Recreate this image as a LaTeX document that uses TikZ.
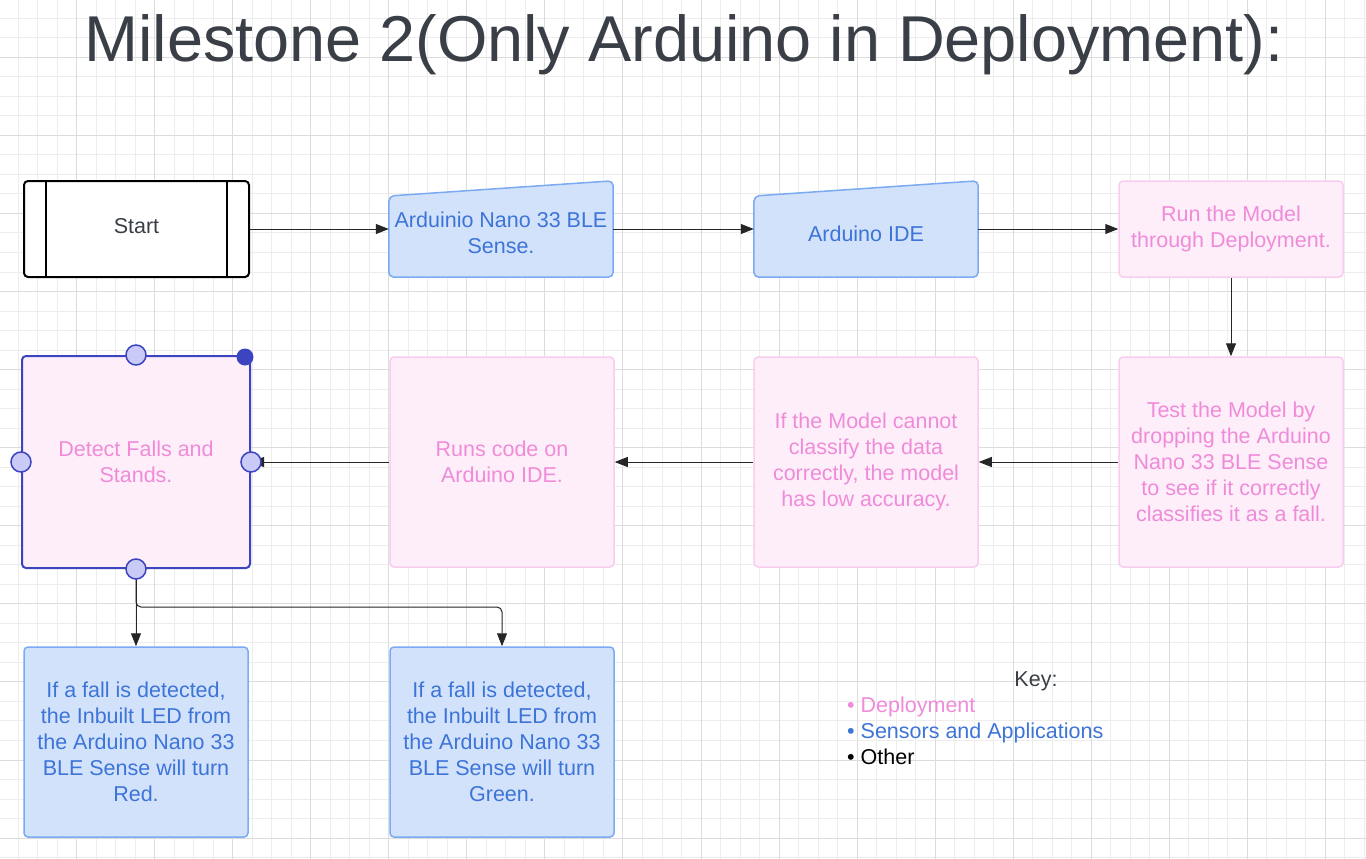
\documentclass[tikz,border=0pt]{standalone}
\usepackage{fontspec}
\setmainfont{Liberation Sans}
\usetikzlibrary{arrows.meta}
\definecolor{bfill}{HTML}{D2E2FB}
\definecolor{bline}{HTML}{7BAAF2}
\definecolor{btext}{HTML}{3D74D8}
\definecolor{pfill}{HTML}{FDEEF9}
\definecolor{pline}{HTML}{F8CDEF}
\definecolor{ptext}{HTML}{F08BD9}
\definecolor{gtext}{HTML}{3A3F47}
\definecolor{gridmin}{HTML}{EDEDED}
\definecolor{gridmaj}{HTML}{DCDCDC}
\definecolor{selline}{HTML}{3D44BF}
\definecolor{handfill}{HTML}{C9CBF6}
\begin{document}
\begin{tikzpicture}[x=1pt,y=-1pt,
 txt/.style={font=\fontsize{21.5}{26}\selectfont, align=center},
 pbox/.style={txt, draw=pline, line width=1.5pt, fill=pfill, text=ptext, rounded corners=4pt, minimum width=224pt, minimum height=210pt, inner sep=0pt},
 bbox/.style={txt, draw=bline, line width=1.5pt, fill=bfill, text=btext, rounded corners=4pt, minimum width=224pt, minimum height=190pt, inner sep=0pt},
 trap/.style={draw=bline, line width=1.5pt, fill=bfill, rounded corners=5pt},
 anchorbox/.style={minimum width=224pt, minimum height=96pt, inner sep=0pt},
 arr/.style={draw=black!85, line width=1pt, -{Triangle[length=13pt,width=10pt]}},
 handle/.style={circle, draw=selline, fill=handfill, line width=1.5pt, minimum size=20pt, inner sep=0pt},
 keytxt/.style={txt, anchor=base west, inner sep=0pt}]
\useasboundingbox (0,0) rectangle (1366,859);
\fill[white] (0,0) rectangle (1366,859);
% grid
\foreach \i in {0,...,70} \draw[gridmin, line width=1pt] ({-1.34+19.51*\i},0) -- ({-1.34+19.51*\i},859);
\foreach \i in {0,...,44} \draw[gridmin, line width=1pt] (0,{-1.26+19.52*\i}) -- (1366,{-1.26+19.52*\i});
\foreach \i in {0,...,17} \draw[gridmaj, line width=1pt] ({-1.34+78.04*\i},0) -- ({-1.34+78.04*\i},859);
\foreach \i in {-1,...,10} \draw[gridmaj, line width=1pt] (0,{57.3+78.08*\i}) -- (1366,{57.3+78.08*\i});

% title
\node[font=\fontsize{64.8}{78}\selectfont, text=gtext, anchor=base, inner sep=0pt] (title) at (684,62) {Milestone 2(Only Arduino in Deployment):};

% row 1
\node[draw=black, line width=2pt, rounded corners=4pt, minimum width=225pt, minimum height=96pt, inner sep=0pt, fill=white] (start) at (136.5,229) {};
\node[txt, text=gtext] (starttxt) at (136.5,226) {Start};
\draw[line width=1.5pt] ([xshift=23pt]start.north west) -- ([xshift=23pt]start.south west);
\draw[line width=1.5pt] ([xshift=-23pt]start.north east) -- ([xshift=-23pt]start.south east);

\node[anchorbox] (nano) at (501,229) {};
\draw[trap] (nano.south west) -- (389,196) -- (nano.north east) -- (nano.south east) -- cycle;
\node[txt, text=btext] (nanotxt) at (501,233) {Arduinio Nano 33 BLE\\Sense.};

\node[anchorbox] (ide) at (866,229) {};
\draw[trap] (ide.south west) -- (754,196) -- (ide.north east) -- (ide.south east) -- cycle;
\node[txt, text=btext] (idetxt) at (866,234) {Arduino IDE};

\node[pbox, minimum height=96pt] (run) at (1231,229) {Run the Model\\through Deployment.};

\draw[arr] (start.east) -- (nano.west);
\draw[arr] (nano.east) -- (ide.west);
\draw[arr] (ide.east) -- (run.west);

% row 2
\node[pbox] (test) at (1231,462) {Test the Model by\\dropping the Arduino\\Nano 33 BLE Sense\\to see if it correctly\\classifies it as a fall.};
\node[pbox] (ifm) at (866,462) {If the Model cannot\\classify the data\\correctly, the model\\has low accuracy.};
\node[pbox] (runs) at (502,462) {Runs code on\\Arduino IDE.};
\node[pbox, draw=selline, line width=2pt, minimum width=228pt, minimum height=212pt] (detect) at (136,462) {Detect Falls and\\Stands.};

\draw[arr] (run.south) -- (test.north);
\draw[arr] (test.west) -- (ifm.east);
\draw[arr] (ifm.west) -- (runs.east);
\draw[arr] (runs.west) -- (detect.east);

% row 3
\node[bbox] (red) at (136,742) {If a fall is detected,\\the Inbuilt LED from\\the Arduino Nano 33\\BLE Sense will turn\\Red.};
\node[bbox] (green) at (502,742) {If a fall is detected,\\the Inbuilt LED from\\the Arduino Nano 33\\BLE Sense will turn\\Green.};

\draw[arr] (detect.south) -- (red.north);
\draw[arr, rounded corners=5pt] (detect.south) -- ++(0,38) -| (green.north);

% selection handles
\node[handle] (hn) at (detect.north) {};
\node[handle] (hs) at (detect.south) {};
\node[handle] (he) at (detect.east) {};
\node[handle] (hw) at (detect.west) {};
\node[circle, fill=selline, minimum size=17pt, inner sep=0pt] (hr) at (245,357) {};

% key
\node[txt, text=gtext, anchor=base, inner sep=0pt] (key) at (1036,686) {Key:};
\node[keytxt, text=ptext] (k1) at (847,712) {• Deployment};
\node[keytxt, text=btext] (k2) at (847,738) {• Sensors and Applications};
\node[keytxt, text=black] (k3) at (847,764) {• Other};
\end{tikzpicture}
\end{document}
